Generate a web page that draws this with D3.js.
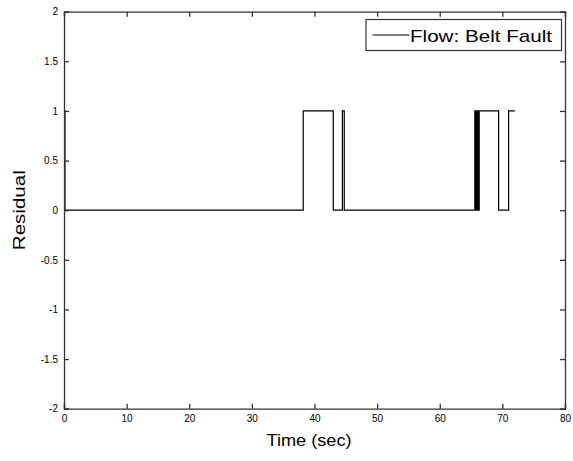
<!DOCTYPE html>
<html>
<head>
    <meta charset="utf-8">
    <title>Residual - belt fault</title>
    <script src="https://d3js.org/d3.v7.min.js"></script>
    <style>
    body { margin:0; background:#fff; }
    text { font-family: "Liberation Sans", Arial, sans-serif; fill:#000; }
    </style>
</head>
<body>
<script type="text/javascript">

// step change points (sec) and the residual value held after each one
const changeTimes = [0, 0.15, 38.2, 43.0, 44.45, 44.75,
    65.6, 65.65, 65.7, 65.75, 65.8, 65.85, 65.9, 65.95, 66.0, 66.05, 66.1, 66.15, 66.2, 66.25, 66.3,
    69.4, 71.0, 72.0];
const changeValues = [1, 0, 1, 0, 1, 0,
    1, 0, 1, 0, 1, 0, 1, 0, 1, 0, 1, 0, 1, 0, 1,
    0, 1, 1];
const xTicks = [0, 10, 20, 30, 40, 50, 60, 70, 80];
const yTicks = [-2, -1.5, -1, -0.5, 0, 0.5, 1, 1.5, 2];
const seriesName = "Flow: Belt Fault";

const width = 573, height = 461;
const margin = {top:11.7, left:64, right:8, bottom:52.3};
const w = width - margin.left - margin.right;
const h = height - margin.top - margin.bottom;

const svg = d3.select("body").append("svg")
    .attr("width", width)
    .attr("height", height);

const plot = svg.append("g")
    .attr("transform", `translate(${margin.left},${margin.top})`);

const x = d3.scaleLinear().domain([0,80]).range([0,w]);
const y = d3.scaleLinear().domain([-2,2]).range([h,0]);

const data = changeTimes.map((t,i) => ({t:t, v:changeValues[i]}));

// the residual trace
const line = d3.line()
    .x(d => x(d.t))
    .y(d => y(d.v))
    .curve(d3.curveStepAfter);

plot.append("path")
    .datum(data)
    .attr("d", line)
    .attr("fill","none")
    .attr("stroke","#000")
    .attr("stroke-width",1.2);

// axes, matlab style: box with inward ticks on all four sides
const tickLen = 5;
const axisColor = "#333";

const xAxisBottom = d3.axisBottom(x).tickValues(xTicks).tickSize(-tickLen).tickPadding(6).tickFormat(d => String(d));
const xAxisTop = d3.axisTop(x).tickValues(xTicks).tickSize(-tickLen).tickFormat("");
const yAxisLeft = d3.axisLeft(y).tickValues(yTicks).tickSize(-tickLen).tickPadding(6).tickFormat(d => String(d));
const yAxisRight = d3.axisRight(y).tickValues(yTicks).tickSize(-tickLen).tickFormat("");

function styleAxis(g){
    g.selectAll(".domain").attr("stroke",axisColor).attr("stroke-width",1.3);
    g.selectAll(".tick line").attr("stroke",axisColor).attr("stroke-width",1.3);
    g.selectAll(".tick text")
        .style("font-family",'"Liberation Sans", Arial, sans-serif')
        .style("font-size","10px")
        .attr("fill","#000");
}

plot.append("g").attr("transform",`translate(0,${h})`).call(xAxisBottom).call(styleAxis);
plot.append("g").call(xAxisTop).call(styleAxis);
plot.append("g").call(yAxisLeft).call(styleAxis);
plot.append("g").attr("transform",`translate(${w},0)`).call(yAxisRight).call(styleAxis);

// axis titles
svg.append("text")
    .attr("x", 309)
    .attr("y", 446)
    .attr("text-anchor","middle")
    .attr("textLength",85)
    .attr("lengthAdjust","spacingAndGlyphs")
    .style("font-size","17px")
    .text("Time (sec)");

svg.append("text")
    .attr("transform",`translate(25,${margin.top + h/2}) rotate(-90)`)
    .attr("text-anchor","middle")
    .attr("textLength",80)
    .attr("lengthAdjust","spacingAndGlyphs")
    .style("font-size","17px")
    .text("Residual");

// legend
const legend = svg.append("g").attr("transform","translate(366,19.5)");
legend.append("rect")
    .attr("width",195.5)
    .attr("height",31)
    .attr("fill","#fff")
    .attr("stroke",axisColor)
    .attr("stroke-width",1.2);
legend.append("line")
    .attr("x1",6.5).attr("x2",43.5)
    .attr("y1",15.5).attr("y2",15.5)
    .attr("stroke","#000")
    .attr("stroke-width",1);
legend.append("text")
    .attr("x",44)
    .attr("y",22)
    .attr("textLength",142)
    .attr("lengthAdjust","spacingAndGlyphs")
    .style("font-size","17px")
    .text(seriesName);

</script>
</body>
</html>
